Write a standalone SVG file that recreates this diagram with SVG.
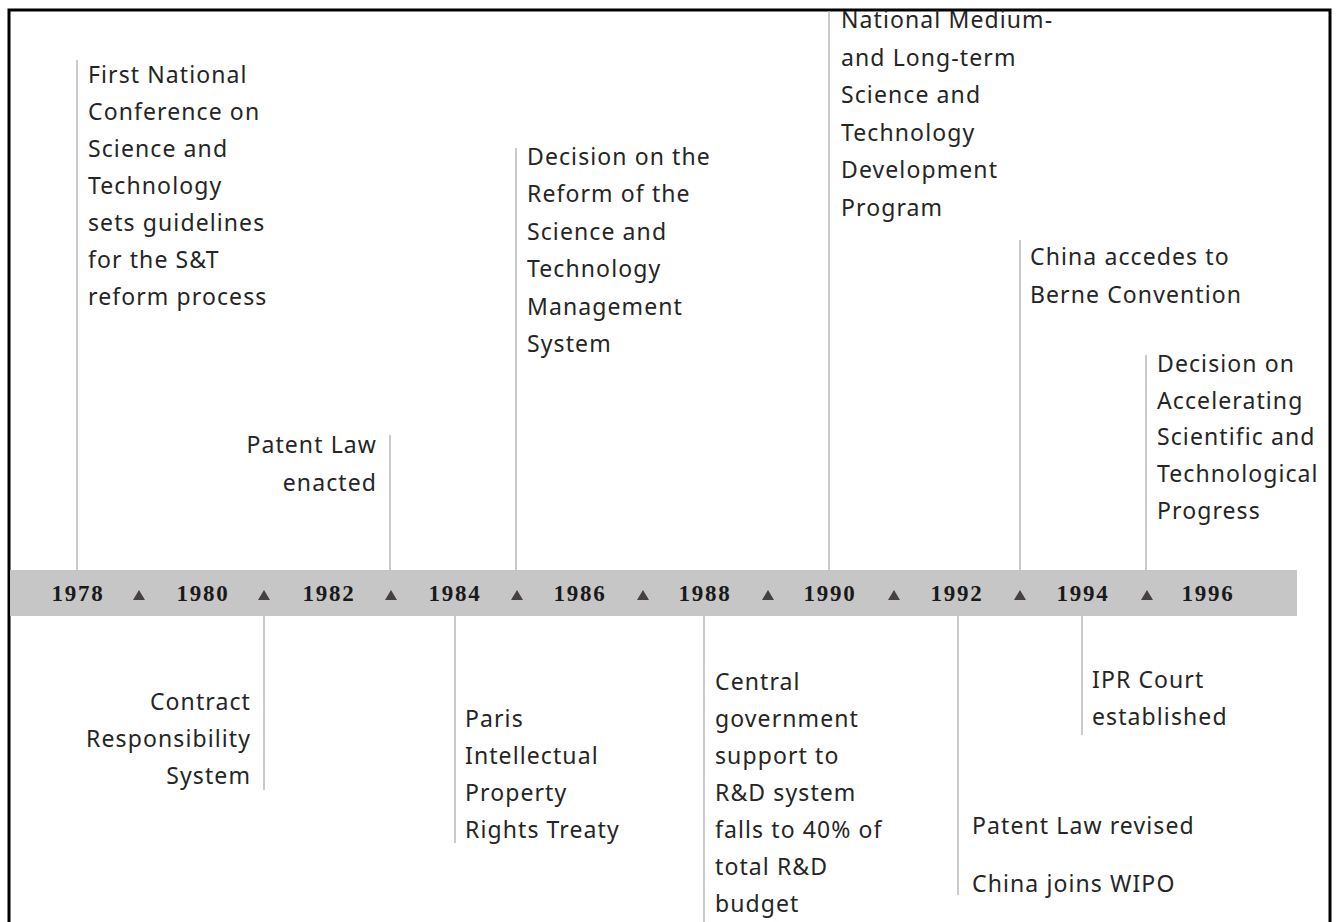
<svg xmlns="http://www.w3.org/2000/svg" width="1338" height="922" viewBox="0 0 1338 922">
<style>
.t{font-family:"Noto Sans","Open Sans",sans-serif;font-size:23px;letter-spacing:1.1px;fill:#252525}
.e{text-anchor:end}
.y{font-family:"Liberation Serif",serif;font-weight:bold;font-size:23px;letter-spacing:1.8px;fill:#1a1a1a;text-anchor:middle}
.l{stroke:#b8b8b8;stroke-width:1.5;fill:none}
</style>
<defs>
<polygon id="tri" points="-6,5 6,5 0,-5" fill="#474040"/>
</defs>
<rect width="1338" height="922" fill="#fff"/>
<path d="M9,922 V10 H1330 V922" fill="none" stroke="#000" stroke-width="3"/>
<g id="connectors">
<line class="l" x1="77" y1="60" x2="77" y2="570"/>
<line class="l" x1="390" y1="435" x2="390" y2="570"/>
<line class="l" x1="516" y1="148" x2="516" y2="570"/>
<line class="l" x1="829" y1="11" x2="829" y2="570"/>
<line class="l" x1="1020" y1="240" x2="1020" y2="570"/>
<line class="l" x1="1146" y1="355" x2="1146" y2="570"/>
<line class="l" x1="264" y1="616" x2="264" y2="790"/>
<line class="l" x1="455" y1="616" x2="455" y2="843"/>
<line class="l" x1="704" y1="616" x2="704" y2="922"/>
<line class="l" x1="958" y1="616" x2="958" y2="895"/>
<line class="l" x1="1082" y1="616" x2="1082" y2="735"/>
</g>
<g id="timeline">
<rect x="10" y="570" width="1287" height="46" fill="#c6c6c6"/>
<text class="y" x="78" y="601">1978</text>
<text class="y" x="203" y="601">1980</text>
<text class="y" x="329" y="601">1982</text>
<text class="y" x="455" y="601">1984</text>
<text class="y" x="580" y="601">1986</text>
<text class="y" x="705" y="601">1988</text>
<text class="y" x="830" y="601">1990</text>
<text class="y" x="957" y="601">1992</text>
<text class="y" x="1083" y="601">1994</text>
<text class="y" x="1208" y="601">1996</text>
<use href="#tri" x="139" y="595"/>
<use href="#tri" x="264" y="595"/>
<use href="#tri" x="391" y="595"/>
<use href="#tri" x="517" y="595"/>
<use href="#tri" x="643" y="595"/>
<use href="#tri" x="768" y="595"/>
<use href="#tri" x="894" y="595"/>
<use href="#tri" x="1020" y="595"/>
<use href="#tri" x="1147" y="595"/>
</g>
<g id="first-national">
<text class="t" x="88" y="83">First National</text>
<text class="t" x="88" y="120">Conference on</text>
<text class="t" x="88" y="157">Science and</text>
<text class="t" x="88" y="194">Technology</text>
<text class="t" x="88" y="231">sets guidelines</text>
<text class="t" x="88" y="268">for the S&amp;T</text>
<text class="t" x="88" y="305">reform process</text>
</g>
<g id="patent-law-enacted">
<text class="t e" x="377" y="453">Patent Law</text>
<text class="t e" x="377" y="491">enacted</text>
</g>
<g id="decision-reform">
<text class="t" x="527" y="165">Decision on the</text>
<text class="t" x="527" y="202">Reform of the</text>
<text class="t" x="527" y="240">Science and</text>
<text class="t" x="527" y="277">Technology</text>
<text class="t" x="527" y="315">Management</text>
<text class="t" x="527" y="352">System</text>
</g>
<g id="national-medium">
<text class="t" x="841" y="28">National Medium-</text>
<text class="t" x="841" y="66">and Long-term</text>
<text class="t" x="841" y="103">Science and</text>
<text class="t" x="841" y="141">Technology</text>
<text class="t" x="841" y="178">Development</text>
<text class="t" x="841" y="216">Program</text>
</g>
<g id="berne">
<text class="t" x="1030" y="265">China accedes to</text>
<text class="t" x="1030" y="303">Berne Convention</text>
</g>
<g id="decision-accelerating">
<text class="t" x="1157" y="372">Decision on</text>
<text class="t" x="1157" y="409">Accelerating</text>
<text class="t" x="1157" y="445">Scientific and</text>
<text class="t" x="1157" y="482">Technological</text>
<text class="t" x="1157" y="519">Progress</text>
</g>
<g id="contract">
<text class="t e" x="251" y="710">Contract</text>
<text class="t e" x="251" y="747">Responsibility</text>
<text class="t e" x="251" y="784">System</text>
</g>
<g id="paris">
<text class="t" x="465" y="727">Paris</text>
<text class="t" x="465" y="764">Intellectual</text>
<text class="t" x="465" y="801">Property</text>
<text class="t" x="465" y="838">Rights Treaty</text>
</g>
<g id="central-government">
<text class="t" x="715" y="690">Central</text>
<text class="t" x="715" y="727">government</text>
<text class="t" x="715" y="764">support to</text>
<text class="t" x="715" y="801">R&amp;D system</text>
<text class="t" x="715" y="838">falls to 40% of</text>
<text class="t" x="715" y="875">total R&amp;D</text>
<text class="t" x="715" y="912">budget</text>
</g>
<g id="patent-revised">
<text class="t" x="972" y="834">Patent Law revised</text>
</g>
<g id="wipo">
<text class="t" x="972" y="892">China joins WIPO</text>
</g>
<g id="ipr-court">
<text class="t" x="1092" y="688">IPR Court</text>
<text class="t" x="1092" y="725">established</text>
</g>
</svg>
